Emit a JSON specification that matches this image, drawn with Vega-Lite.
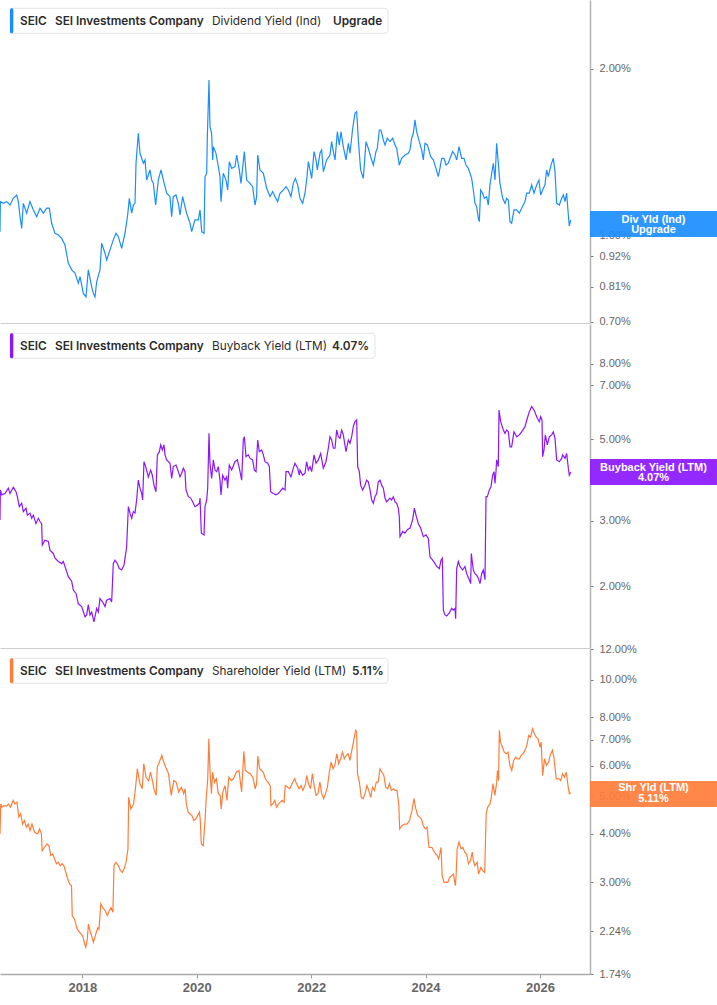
{
"$schema":"https://vega.github.io/schema/vega-lite/v6.json",
"padding":0,
"background":"white",
"spacing":1,
"bounds":"flush",
"config":{"view":{"stroke":null},"font":"Liberation Sans"},
"datasets":{
"div":[{"year":2016.560,"value":1.018},{"year":2016.566,"value":1.153},{"year":2016.618,"value":1.145},{"year":2016.677,"value":1.153},{"year":2016.735,"value":1.137},{"year":2016.793,"value":1.169},{"year":2016.851,"value":1.185},{"year":2016.881,"value":1.153},{"year":2016.910,"value":1.083},{"year":2016.939,"value":1.032},{"year":2016.968,"value":1.145},{"year":2017.026,"value":1.099},{"year":2017.084,"value":1.153},{"year":2017.143,"value":1.114},{"year":2017.201,"value":1.083},{"year":2017.259,"value":1.122},{"year":2017.318,"value":1.099},{"year":2017.376,"value":1.122},{"year":2017.422,"value":1.122},{"year":2017.463,"value":1.054},{"year":2017.522,"value":1.011},{"year":2017.580,"value":1.004},{"year":2017.638,"value":0.990},{"year":2017.696,"value":0.963},{"year":2017.755,"value":0.893},{"year":2017.813,"value":0.869},{"year":2017.871,"value":0.857},{"year":2017.929,"value":0.822},{"year":2017.959,"value":0.845},{"year":2018.017,"value":0.788},{"year":2018.063,"value":0.777},{"year":2018.104,"value":0.869},{"year":2018.163,"value":0.810},{"year":2018.192,"value":0.788},{"year":2018.221,"value":0.777},{"year":2018.250,"value":0.827},{"year":2018.308,"value":0.869},{"year":2018.337,"value":0.970},{"year":2018.396,"value":0.931},{"year":2018.425,"value":0.905},{"year":2018.483,"value":0.944},{"year":2018.541,"value":0.984},{"year":2018.588,"value":1.011},{"year":2018.629,"value":0.997},{"year":2018.687,"value":0.950},{"year":2018.745,"value":1.011},{"year":2018.792,"value":1.091},{"year":2018.821,"value":1.169},{"year":2018.862,"value":1.099},{"year":2018.891,"value":1.137},{"year":2018.920,"value":1.145},{"year":2018.938,"value":1.352},{"year":2018.978,"value":1.531},{"year":2019.008,"value":1.409},{"year":2019.066,"value":1.352},{"year":2019.095,"value":1.371},{"year":2019.124,"value":1.261},{"year":2019.182,"value":1.315},{"year":2019.212,"value":1.261},{"year":2019.241,"value":1.244},{"year":2019.281,"value":1.137},{"year":2019.328,"value":1.261},{"year":2019.375,"value":1.315},{"year":2019.416,"value":1.261},{"year":2019.445,"value":1.227},{"year":2019.474,"value":1.194},{"year":2019.532,"value":1.177},{"year":2019.561,"value":1.083},{"year":2019.590,"value":1.177},{"year":2019.637,"value":1.185},{"year":2019.678,"value":1.145},{"year":2019.707,"value":1.091},{"year":2019.753,"value":1.177},{"year":2019.794,"value":1.129},{"year":2019.823,"value":1.099},{"year":2019.882,"value":1.054},{"year":2019.911,"value":1.018},{"year":2019.969,"value":1.069},{"year":2020.027,"value":1.069},{"year":2020.057,"value":1.114},{"year":2020.086,"value":1.018},{"year":2020.127,"value":1.011},{"year":2020.144,"value":1.279},{"year":2020.173,"value":1.297},{"year":2020.185,"value":1.510},{"year":2020.214,"value":1.910},{"year":2020.231,"value":1.574},{"year":2020.260,"value":1.531},{"year":2020.278,"value":1.371},{"year":2020.290,"value":1.448},{"year":2020.336,"value":1.409},{"year":2020.377,"value":1.333},{"year":2020.406,"value":1.279},{"year":2020.424,"value":1.153},{"year":2020.464,"value":1.297},{"year":2020.511,"value":1.261},{"year":2020.540,"value":1.210},{"year":2020.569,"value":1.361},{"year":2020.610,"value":1.324},{"year":2020.668,"value":1.333},{"year":2020.698,"value":1.399},{"year":2020.744,"value":1.315},{"year":2020.773,"value":1.244},{"year":2020.832,"value":1.419},{"year":2020.872,"value":1.261},{"year":2020.931,"value":1.244},{"year":2020.977,"value":1.227},{"year":2021.018,"value":1.137},{"year":2021.047,"value":1.177},{"year":2021.065,"value":1.399},{"year":2021.105,"value":1.315},{"year":2021.164,"value":1.297},{"year":2021.222,"value":1.219},{"year":2021.280,"value":1.177},{"year":2021.327,"value":1.202},{"year":2021.368,"value":1.177},{"year":2021.414,"value":1.153},{"year":2021.455,"value":1.194},{"year":2021.513,"value":1.210},{"year":2021.560,"value":1.227},{"year":2021.601,"value":1.210},{"year":2021.647,"value":1.177},{"year":2021.688,"value":1.244},{"year":2021.723,"value":1.270},{"year":2021.764,"value":1.236},{"year":2021.805,"value":1.169},{"year":2021.851,"value":1.145},{"year":2021.892,"value":1.194},{"year":2021.921,"value":1.261},{"year":2021.951,"value":1.361},{"year":2021.980,"value":1.315},{"year":2022.009,"value":1.270},{"year":2022.050,"value":1.419},{"year":2022.085,"value":1.371},{"year":2022.108,"value":1.315},{"year":2022.154,"value":1.409},{"year":2022.184,"value":1.429},{"year":2022.213,"value":1.306},{"year":2022.271,"value":1.371},{"year":2022.329,"value":1.399},{"year":2022.358,"value":1.479},{"year":2022.388,"value":1.419},{"year":2022.417,"value":1.371},{"year":2022.458,"value":1.541},{"year":2022.492,"value":1.459},{"year":2022.522,"value":1.541},{"year":2022.562,"value":1.448},{"year":2022.609,"value":1.371},{"year":2022.650,"value":1.469},{"year":2022.679,"value":1.409},{"year":2022.726,"value":1.563},{"year":2022.766,"value":1.663},{"year":2022.796,"value":1.675},{"year":2022.825,"value":1.489},{"year":2022.865,"value":1.315},{"year":2022.912,"value":1.270},{"year":2022.959,"value":1.479},{"year":2022.999,"value":1.439},{"year":2023.040,"value":1.389},{"year":2023.087,"value":1.342},{"year":2023.133,"value":1.419},{"year":2023.157,"value":1.439},{"year":2023.192,"value":1.552},{"year":2023.221,"value":1.552},{"year":2023.262,"value":1.489},{"year":2023.291,"value":1.459},{"year":2023.332,"value":1.500},{"year":2023.378,"value":1.479},{"year":2023.425,"value":1.500},{"year":2023.466,"value":1.459},{"year":2023.495,"value":1.439},{"year":2023.541,"value":1.342},{"year":2023.582,"value":1.380},{"year":2023.640,"value":1.399},{"year":2023.699,"value":1.409},{"year":2023.728,"value":1.429},{"year":2023.757,"value":1.500},{"year":2023.786,"value":1.531},{"year":2023.815,"value":1.618},{"year":2023.844,"value":1.541},{"year":2023.891,"value":1.479},{"year":2023.932,"value":1.429},{"year":2023.961,"value":1.371},{"year":2023.990,"value":1.469},{"year":2024.031,"value":1.459},{"year":2024.066,"value":1.419},{"year":2024.089,"value":1.389},{"year":2024.136,"value":1.371},{"year":2024.182,"value":1.324},{"year":2024.223,"value":1.279},{"year":2024.252,"value":1.324},{"year":2024.282,"value":1.380},{"year":2024.322,"value":1.380},{"year":2024.357,"value":1.342},{"year":2024.398,"value":1.352},{"year":2024.427,"value":1.380},{"year":2024.474,"value":1.419},{"year":2024.515,"value":1.399},{"year":2024.544,"value":1.371},{"year":2024.585,"value":1.448},{"year":2024.631,"value":1.380},{"year":2024.672,"value":1.380},{"year":2024.707,"value":1.342},{"year":2024.748,"value":1.324},{"year":2024.777,"value":1.297},{"year":2024.806,"value":1.270},{"year":2024.835,"value":1.210},{"year":2024.864,"value":1.145},{"year":2024.893,"value":1.129},{"year":2024.923,"value":1.076},{"year":2024.940,"value":1.061},{"year":2024.963,"value":1.210},{"year":2024.998,"value":1.194},{"year":2025.027,"value":1.169},{"year":2025.068,"value":1.177},{"year":2025.097,"value":1.137},{"year":2025.126,"value":1.236},{"year":2025.156,"value":1.297},{"year":2025.185,"value":1.352},{"year":2025.214,"value":1.261},{"year":2025.243,"value":1.469},{"year":2025.272,"value":1.352},{"year":2025.301,"value":1.244},{"year":2025.348,"value":1.169},{"year":2025.389,"value":1.145},{"year":2025.418,"value":1.169},{"year":2025.447,"value":1.161},{"year":2025.476,"value":1.061},{"year":2025.505,"value":1.054},{"year":2025.546,"value":1.114},{"year":2025.593,"value":1.114},{"year":2025.639,"value":1.099},{"year":2025.680,"value":1.122},{"year":2025.738,"value":1.153},{"year":2025.768,"value":1.194},{"year":2025.814,"value":1.194},{"year":2025.855,"value":1.236},{"year":2025.896,"value":1.194},{"year":2025.942,"value":1.236},{"year":2025.983,"value":1.261},{"year":2026.012,"value":1.185},{"year":2026.059,"value":1.219},{"year":2026.088,"value":1.236},{"year":2026.117,"value":1.315},{"year":2026.146,"value":1.279},{"year":2026.193,"value":1.342},{"year":2026.234,"value":1.380},{"year":2026.263,"value":1.306},{"year":2026.292,"value":1.145},{"year":2026.339,"value":1.137},{"year":2026.379,"value":1.169},{"year":2026.409,"value":1.185},{"year":2026.438,"value":1.153},{"year":2026.467,"value":1.194},{"year":2026.496,"value":1.091},{"year":2026.513,"value":1.042},{"year":2026.537,"value":1.069}],
"buy":[{"year":2016.560,"value":3.02},{"year":2016.566,"value":3.64},{"year":2016.589,"value":3.53},{"year":2016.647,"value":3.56},{"year":2016.706,"value":3.68},{"year":2016.735,"value":3.56},{"year":2016.793,"value":3.70},{"year":2016.840,"value":3.60},{"year":2016.863,"value":3.49},{"year":2016.898,"value":3.28},{"year":2016.939,"value":3.35},{"year":2016.968,"value":3.18},{"year":2017.015,"value":3.25},{"year":2017.038,"value":3.11},{"year":2017.084,"value":3.15},{"year":2017.114,"value":3.05},{"year":2017.143,"value":3.11},{"year":2017.189,"value":2.95},{"year":2017.230,"value":3.05},{"year":2017.259,"value":2.99},{"year":2017.288,"value":2.95},{"year":2017.300,"value":2.58},{"year":2017.347,"value":2.66},{"year":2017.405,"value":2.64},{"year":2017.434,"value":2.50},{"year":2017.492,"value":2.45},{"year":2017.522,"value":2.38},{"year":2017.580,"value":2.33},{"year":2017.638,"value":2.30},{"year":2017.667,"value":2.33},{"year":2017.696,"value":2.26},{"year":2017.755,"value":2.12},{"year":2017.813,"value":2.06},{"year":2017.842,"value":1.95},{"year":2017.889,"value":1.91},{"year":2017.929,"value":1.79},{"year":2017.988,"value":1.76},{"year":2018.046,"value":1.65},{"year":2018.075,"value":1.67},{"year":2018.104,"value":1.78},{"year":2018.133,"value":1.67},{"year":2018.163,"value":1.70},{"year":2018.203,"value":1.60},{"year":2018.250,"value":1.74},{"year":2018.279,"value":1.70},{"year":2018.308,"value":1.85},{"year":2018.355,"value":1.81},{"year":2018.396,"value":1.76},{"year":2018.425,"value":1.83},{"year":2018.483,"value":1.85},{"year":2018.512,"value":1.81},{"year":2018.541,"value":2.30},{"year":2018.570,"value":2.35},{"year":2018.611,"value":2.30},{"year":2018.646,"value":2.23},{"year":2018.687,"value":2.21},{"year":2018.728,"value":2.28},{"year":2018.774,"value":2.55},{"year":2018.804,"value":3.28},{"year":2018.833,"value":3.15},{"year":2018.862,"value":3.05},{"year":2018.891,"value":3.18},{"year":2018.920,"value":3.15},{"year":2018.949,"value":3.42},{"year":2018.978,"value":3.87},{"year":2019.008,"value":3.68},{"year":2019.037,"value":3.56},{"year":2019.054,"value":3.42},{"year":2019.077,"value":4.34},{"year":2019.107,"value":4.21},{"year":2019.153,"value":3.95},{"year":2019.194,"value":4.12},{"year":2019.223,"value":3.99},{"year":2019.252,"value":3.75},{"year":2019.287,"value":3.60},{"year":2019.311,"value":4.53},{"year":2019.346,"value":4.62},{"year":2019.369,"value":4.82},{"year":2019.398,"value":4.67},{"year":2019.427,"value":4.82},{"year":2019.445,"value":4.53},{"year":2019.474,"value":4.39},{"year":2019.532,"value":4.30},{"year":2019.561,"value":3.91},{"year":2019.590,"value":4.21},{"year":2019.637,"value":4.25},{"year":2019.678,"value":4.08},{"year":2019.707,"value":3.95},{"year":2019.736,"value":4.04},{"year":2019.765,"value":4.17},{"year":2019.794,"value":4.08},{"year":2019.812,"value":3.64},{"year":2019.853,"value":3.49},{"year":2019.893,"value":3.46},{"year":2019.928,"value":3.38},{"year":2019.969,"value":3.28},{"year":2020.010,"value":3.31},{"year":2020.045,"value":3.35},{"year":2020.057,"value":3.46},{"year":2020.080,"value":2.78},{"year":2020.127,"value":2.75},{"year":2020.144,"value":3.28},{"year":2020.173,"value":3.42},{"year":2020.191,"value":3.68},{"year":2020.214,"value":5.18},{"year":2020.231,"value":4.30},{"year":2020.260,"value":3.91},{"year":2020.290,"value":4.39},{"year":2020.319,"value":4.12},{"year":2020.348,"value":4.08},{"year":2020.377,"value":4.21},{"year":2020.406,"value":3.87},{"year":2020.424,"value":3.53},{"year":2020.453,"value":3.99},{"year":2020.494,"value":3.87},{"year":2020.523,"value":3.95},{"year":2020.540,"value":3.68},{"year":2020.569,"value":4.25},{"year":2020.610,"value":4.12},{"year":2020.668,"value":4.34},{"year":2020.709,"value":4.39},{"year":2020.744,"value":4.17},{"year":2020.785,"value":3.87},{"year":2020.814,"value":4.97},{"year":2020.832,"value":5.07},{"year":2020.861,"value":4.48},{"year":2020.902,"value":4.53},{"year":2020.931,"value":4.43},{"year":2020.977,"value":4.39},{"year":2021.006,"value":4.12},{"year":2021.036,"value":4.08},{"year":2021.065,"value":4.97},{"year":2021.094,"value":4.62},{"year":2021.135,"value":4.67},{"year":2021.164,"value":4.53},{"year":2021.193,"value":4.34},{"year":2021.240,"value":4.30},{"year":2021.269,"value":4.21},{"year":2021.292,"value":3.60},{"year":2021.339,"value":3.56},{"year":2021.385,"value":3.53},{"year":2021.426,"value":3.56},{"year":2021.455,"value":3.60},{"year":2021.502,"value":3.68},{"year":2021.543,"value":3.64},{"year":2021.560,"value":4.08},{"year":2021.601,"value":4.08},{"year":2021.647,"value":3.95},{"year":2021.688,"value":4.17},{"year":2021.717,"value":4.30},{"year":2021.764,"value":4.17},{"year":2021.793,"value":3.99},{"year":2021.805,"value":4.12},{"year":2021.851,"value":3.99},{"year":2021.892,"value":4.04},{"year":2021.921,"value":4.34},{"year":2021.951,"value":4.12},{"year":2021.980,"value":4.21},{"year":2022.009,"value":4.08},{"year":2022.050,"value":4.53},{"year":2022.085,"value":4.30},{"year":2022.125,"value":4.39},{"year":2022.166,"value":4.57},{"year":2022.213,"value":4.17},{"year":2022.259,"value":4.34},{"year":2022.300,"value":4.72},{"year":2022.329,"value":5.07},{"year":2022.358,"value":4.97},{"year":2022.388,"value":4.72},{"year":2022.417,"value":4.72},{"year":2022.446,"value":5.29},{"year":2022.475,"value":5.07},{"year":2022.504,"value":5.02},{"year":2022.533,"value":5.29},{"year":2022.562,"value":5.13},{"year":2022.609,"value":4.62},{"year":2022.650,"value":4.97},{"year":2022.679,"value":4.87},{"year":2022.708,"value":5.07},{"year":2022.737,"value":5.40},{"year":2022.766,"value":5.57},{"year":2022.796,"value":5.63},{"year":2022.813,"value":4.21},{"year":2022.842,"value":4.08},{"year":2022.865,"value":3.75},{"year":2022.900,"value":3.64},{"year":2022.941,"value":3.75},{"year":2022.970,"value":3.87},{"year":2022.999,"value":3.83},{"year":2023.029,"value":3.64},{"year":2023.058,"value":3.42},{"year":2023.087,"value":3.35},{"year":2023.116,"value":3.49},{"year":2023.145,"value":3.56},{"year":2023.174,"value":3.83},{"year":2023.203,"value":3.87},{"year":2023.233,"value":3.75},{"year":2023.262,"value":3.68},{"year":2023.291,"value":3.46},{"year":2023.320,"value":3.38},{"year":2023.349,"value":3.42},{"year":2023.378,"value":3.46},{"year":2023.407,"value":3.42},{"year":2023.437,"value":3.49},{"year":2023.466,"value":3.38},{"year":2023.495,"value":3.35},{"year":2023.524,"value":3.25},{"year":2023.541,"value":3.08},{"year":2023.553,"value":2.72},{"year":2023.600,"value":2.81},{"year":2023.640,"value":2.78},{"year":2023.681,"value":2.84},{"year":2023.728,"value":2.87},{"year":2023.774,"value":3.02},{"year":2023.804,"value":3.25},{"year":2023.833,"value":3.11},{"year":2023.874,"value":2.95},{"year":2023.914,"value":2.87},{"year":2023.961,"value":2.72},{"year":2024.008,"value":2.75},{"year":2024.048,"value":2.69},{"year":2024.078,"value":2.40},{"year":2024.124,"value":2.35},{"year":2024.165,"value":2.30},{"year":2024.194,"value":2.26},{"year":2024.241,"value":2.23},{"year":2024.270,"value":2.35},{"year":2024.293,"value":2.38},{"year":2024.311,"value":1.72},{"year":2024.340,"value":1.67},{"year":2024.369,"value":1.66},{"year":2024.416,"value":1.69},{"year":2024.456,"value":1.74},{"year":2024.486,"value":1.72},{"year":2024.515,"value":1.74},{"year":2024.526,"value":1.63},{"year":2024.544,"value":2.23},{"year":2024.573,"value":2.33},{"year":2024.602,"value":2.26},{"year":2024.649,"value":2.21},{"year":2024.689,"value":2.26},{"year":2024.719,"value":2.16},{"year":2024.765,"value":2.08},{"year":2024.789,"value":2.03},{"year":2024.800,"value":2.45},{"year":2024.835,"value":2.21},{"year":2024.864,"value":2.16},{"year":2024.893,"value":2.14},{"year":2024.923,"value":2.10},{"year":2024.952,"value":2.03},{"year":2024.981,"value":2.16},{"year":2025.010,"value":2.21},{"year":2025.039,"value":2.08},{"year":2025.057,"value":3.49},{"year":2025.080,"value":3.49},{"year":2025.115,"value":3.64},{"year":2025.144,"value":3.71},{"year":2025.173,"value":3.99},{"year":2025.197,"value":4.08},{"year":2025.214,"value":3.79},{"year":2025.231,"value":4.08},{"year":2025.243,"value":4.39},{"year":2025.272,"value":4.21},{"year":2025.284,"value":5.99},{"year":2025.313,"value":5.57},{"year":2025.360,"value":5.29},{"year":2025.389,"value":5.18},{"year":2025.418,"value":5.29},{"year":2025.447,"value":5.23},{"year":2025.476,"value":4.76},{"year":2025.505,"value":4.76},{"year":2025.546,"value":5.23},{"year":2025.593,"value":5.07},{"year":2025.639,"value":5.13},{"year":2025.680,"value":5.23},{"year":2025.738,"value":5.40},{"year":2025.779,"value":5.69},{"year":2025.814,"value":5.93},{"year":2025.855,"value":6.12},{"year":2025.896,"value":5.99},{"year":2025.931,"value":5.81},{"year":2025.954,"value":5.69},{"year":2025.989,"value":5.57},{"year":2026.012,"value":5.75},{"year":2026.036,"value":5.63},{"year":2026.047,"value":4.48},{"year":2026.071,"value":4.67},{"year":2026.094,"value":5.13},{"year":2026.129,"value":4.82},{"year":2026.164,"value":5.07},{"year":2026.205,"value":5.13},{"year":2026.234,"value":5.23},{"year":2026.263,"value":5.02},{"year":2026.292,"value":4.39},{"year":2026.339,"value":4.34},{"year":2026.379,"value":4.43},{"year":2026.397,"value":4.53},{"year":2026.438,"value":4.43},{"year":2026.467,"value":4.57},{"year":2026.496,"value":4.17},{"year":2026.513,"value":3.99},{"year":2026.537,"value":4.07}],
"shr":[{"year":2016.560,"value":4.00},{"year":2016.573,"value":4.78},{"year":2016.593,"value":4.69},{"year":2016.626,"value":4.73},{"year":2016.678,"value":4.72},{"year":2016.705,"value":4.78},{"year":2016.744,"value":4.69},{"year":2016.790,"value":4.88},{"year":2016.823,"value":4.78},{"year":2016.856,"value":4.83},{"year":2016.889,"value":4.42},{"year":2016.922,"value":4.51},{"year":2016.955,"value":4.24},{"year":2016.988,"value":4.33},{"year":2017.021,"value":4.16},{"year":2017.053,"value":4.24},{"year":2017.086,"value":4.08},{"year":2017.119,"value":4.24},{"year":2017.165,"value":4.04},{"year":2017.218,"value":4.00},{"year":2017.251,"value":4.12},{"year":2017.284,"value":4.00},{"year":2017.297,"value":3.62},{"year":2017.336,"value":3.69},{"year":2017.382,"value":3.77},{"year":2017.415,"value":3.73},{"year":2017.448,"value":3.52},{"year":2017.481,"value":3.55},{"year":2017.514,"value":3.45},{"year":2017.547,"value":3.35},{"year":2017.580,"value":3.38},{"year":2017.613,"value":3.31},{"year":2017.646,"value":3.35},{"year":2017.678,"value":3.31},{"year":2017.711,"value":3.18},{"year":2017.744,"value":3.06},{"year":2017.777,"value":2.97},{"year":2017.810,"value":2.94},{"year":2017.823,"value":2.46},{"year":2017.863,"value":2.41},{"year":2017.909,"value":2.27},{"year":2017.974,"value":2.21},{"year":2018.007,"value":2.18},{"year":2018.040,"value":2.08},{"year":2018.060,"value":2.04},{"year":2018.086,"value":2.14},{"year":2018.106,"value":2.34},{"year":2018.139,"value":2.23},{"year":2018.172,"value":2.16},{"year":2018.192,"value":2.10},{"year":2018.218,"value":2.16},{"year":2018.244,"value":2.23},{"year":2018.271,"value":2.29},{"year":2018.290,"value":2.27},{"year":2018.323,"value":2.64},{"year":2018.356,"value":2.58},{"year":2018.402,"value":2.53},{"year":2018.435,"value":2.46},{"year":2018.468,"value":2.53},{"year":2018.501,"value":2.58},{"year":2018.534,"value":2.51},{"year":2018.553,"value":3.31},{"year":2018.586,"value":3.38},{"year":2018.632,"value":3.31},{"year":2018.665,"value":3.22},{"year":2018.698,"value":3.18},{"year":2018.731,"value":3.25},{"year":2018.764,"value":3.38},{"year":2018.797,"value":3.66},{"year":2018.810,"value":4.97},{"year":2018.849,"value":4.64},{"year":2018.896,"value":4.78},{"year":2018.928,"value":5.23},{"year":2018.961,"value":5.89},{"year":2018.981,"value":5.66},{"year":2019.007,"value":5.39},{"year":2019.047,"value":5.23},{"year":2019.073,"value":6.07},{"year":2019.113,"value":5.60},{"year":2019.159,"value":5.49},{"year":2019.192,"value":5.77},{"year":2019.224,"value":5.49},{"year":2019.257,"value":5.18},{"year":2019.290,"value":5.03},{"year":2019.310,"value":5.95},{"year":2019.356,"value":6.19},{"year":2019.389,"value":6.38},{"year":2019.422,"value":6.13},{"year":2019.455,"value":5.95},{"year":2019.507,"value":5.72},{"year":2019.553,"value":5.03},{"year":2019.599,"value":5.49},{"year":2019.639,"value":5.44},{"year":2019.685,"value":5.13},{"year":2019.731,"value":5.28},{"year":2019.771,"value":5.08},{"year":2019.797,"value":5.23},{"year":2019.817,"value":4.78},{"year":2019.849,"value":4.55},{"year":2019.915,"value":4.46},{"year":2019.948,"value":4.33},{"year":2019.981,"value":4.37},{"year":2020.047,"value":4.55},{"year":2020.060,"value":4.37},{"year":2020.080,"value":3.77},{"year":2020.113,"value":3.73},{"year":2020.146,"value":4.37},{"year":2020.165,"value":4.93},{"year":2020.192,"value":5.55},{"year":2020.211,"value":7.04},{"year":2020.231,"value":5.83},{"year":2020.257,"value":5.08},{"year":2020.277,"value":5.77},{"year":2020.310,"value":5.44},{"year":2020.343,"value":5.55},{"year":2020.376,"value":5.08},{"year":2020.409,"value":5.03},{"year":2020.428,"value":4.64},{"year":2020.455,"value":5.13},{"year":2020.494,"value":5.33},{"year":2020.527,"value":4.88},{"year":2020.560,"value":5.60},{"year":2020.606,"value":5.49},{"year":2020.639,"value":5.55},{"year":2020.692,"value":5.77},{"year":2020.738,"value":5.83},{"year":2020.784,"value":5.13},{"year":2020.803,"value":5.77},{"year":2020.823,"value":6.53},{"year":2020.849,"value":5.83},{"year":2020.889,"value":5.77},{"year":2020.935,"value":5.72},{"year":2020.981,"value":5.60},{"year":2021.021,"value":5.23},{"year":2021.047,"value":5.39},{"year":2021.067,"value":6.35},{"year":2021.099,"value":5.89},{"year":2021.132,"value":5.83},{"year":2021.165,"value":5.77},{"year":2021.198,"value":5.55},{"year":2021.244,"value":5.44},{"year":2021.284,"value":5.33},{"year":2021.297,"value":4.73},{"year":2021.330,"value":4.78},{"year":2021.363,"value":4.88},{"year":2021.396,"value":4.69},{"year":2021.428,"value":4.78},{"year":2021.461,"value":4.83},{"year":2021.494,"value":4.88},{"year":2021.527,"value":4.83},{"year":2021.547,"value":5.33},{"year":2021.593,"value":5.28},{"year":2021.626,"value":5.23},{"year":2021.678,"value":5.44},{"year":2021.711,"value":5.55},{"year":2021.744,"value":5.39},{"year":2021.790,"value":5.23},{"year":2021.823,"value":5.33},{"year":2021.856,"value":5.18},{"year":2021.902,"value":5.39},{"year":2021.922,"value":5.66},{"year":2021.955,"value":5.39},{"year":2021.988,"value":5.23},{"year":2022.021,"value":5.72},{"year":2022.053,"value":5.33},{"year":2022.086,"value":5.03},{"year":2022.119,"value":5.08},{"year":2022.152,"value":5.44},{"year":2022.185,"value":5.08},{"year":2022.218,"value":4.93},{"year":2022.251,"value":5.08},{"year":2022.284,"value":5.28},{"year":2022.317,"value":5.77},{"year":2022.349,"value":6.13},{"year":2022.382,"value":5.89},{"year":2022.415,"value":6.01},{"year":2022.448,"value":6.44},{"year":2022.481,"value":6.07},{"year":2022.514,"value":6.25},{"year":2022.547,"value":6.50},{"year":2022.580,"value":6.25},{"year":2022.613,"value":6.38},{"year":2022.646,"value":6.44},{"year":2022.678,"value":6.19},{"year":2022.711,"value":6.57},{"year":2022.744,"value":6.97},{"year":2022.777,"value":7.40},{"year":2022.797,"value":7.33},{"year":2022.810,"value":5.72},{"year":2022.843,"value":5.44},{"year":2022.876,"value":4.97},{"year":2022.909,"value":4.93},{"year":2022.942,"value":5.08},{"year":2022.974,"value":5.33},{"year":2023.007,"value":5.18},{"year":2023.040,"value":4.97},{"year":2023.073,"value":5.28},{"year":2023.106,"value":5.18},{"year":2023.139,"value":5.44},{"year":2023.172,"value":5.44},{"year":2023.205,"value":5.89},{"year":2023.238,"value":5.77},{"year":2023.271,"value":5.66},{"year":2023.303,"value":5.28},{"year":2023.336,"value":5.23},{"year":2023.369,"value":5.39},{"year":2023.402,"value":5.18},{"year":2023.435,"value":5.23},{"year":2023.468,"value":5.18},{"year":2023.501,"value":5.18},{"year":2023.534,"value":4.73},{"year":2023.547,"value":4.12},{"year":2023.586,"value":4.20},{"year":2023.633,"value":4.24},{"year":2023.678,"value":4.24},{"year":2023.718,"value":4.33},{"year":2023.764,"value":4.60},{"year":2023.797,"value":4.93},{"year":2023.830,"value":4.64},{"year":2023.863,"value":4.46},{"year":2023.896,"value":4.42},{"year":2023.928,"value":4.37},{"year":2023.961,"value":4.20},{"year":2023.994,"value":4.12},{"year":2024.027,"value":4.16},{"year":2024.060,"value":3.69},{"year":2024.113,"value":3.69},{"year":2024.139,"value":3.62},{"year":2024.179,"value":3.55},{"year":2024.205,"value":3.52},{"year":2024.225,"value":3.45},{"year":2024.244,"value":3.52},{"year":2024.271,"value":3.69},{"year":2024.290,"value":3.12},{"year":2024.323,"value":3.00},{"year":2024.389,"value":3.00},{"year":2024.422,"value":3.09},{"year":2024.455,"value":3.12},{"year":2024.488,"value":3.15},{"year":2024.521,"value":2.94},{"year":2024.534,"value":3.12},{"year":2024.553,"value":3.66},{"year":2024.586,"value":3.81},{"year":2024.619,"value":3.66},{"year":2024.652,"value":3.69},{"year":2024.685,"value":3.59},{"year":2024.718,"value":3.55},{"year":2024.751,"value":3.35},{"year":2024.784,"value":3.41},{"year":2024.817,"value":3.59},{"year":2024.836,"value":3.41},{"year":2024.863,"value":3.31},{"year":2024.902,"value":3.38},{"year":2024.928,"value":3.15},{"year":2024.968,"value":3.28},{"year":2024.994,"value":3.22},{"year":2025.034,"value":3.18},{"year":2025.060,"value":4.51},{"year":2025.086,"value":4.69},{"year":2025.126,"value":4.78},{"year":2025.146,"value":4.93},{"year":2025.179,"value":5.39},{"year":2025.211,"value":5.03},{"year":2025.244,"value":5.44},{"year":2025.257,"value":5.83},{"year":2025.277,"value":5.49},{"year":2025.290,"value":7.40},{"year":2025.310,"value":6.90},{"year":2025.343,"value":6.70},{"year":2025.376,"value":6.50},{"year":2025.409,"value":6.44},{"year":2025.442,"value":6.50},{"year":2025.474,"value":6.01},{"year":2025.507,"value":5.83},{"year":2025.540,"value":6.19},{"year":2025.573,"value":6.31},{"year":2025.606,"value":6.25},{"year":2025.639,"value":6.25},{"year":2025.672,"value":6.38},{"year":2025.705,"value":6.44},{"year":2025.738,"value":6.57},{"year":2025.771,"value":6.77},{"year":2025.804,"value":7.18},{"year":2025.836,"value":7.11},{"year":2025.869,"value":7.47},{"year":2025.902,"value":7.25},{"year":2025.935,"value":7.11},{"year":2025.968,"value":7.04},{"year":2026.001,"value":6.70},{"year":2026.021,"value":6.90},{"year":2026.047,"value":5.66},{"year":2026.080,"value":6.25},{"year":2026.113,"value":6.01},{"year":2026.152,"value":6.13},{"year":2026.178,"value":6.38},{"year":2026.218,"value":6.57},{"year":2026.244,"value":6.31},{"year":2026.284,"value":5.55},{"year":2026.330,"value":5.55},{"year":2026.363,"value":5.49},{"year":2026.396,"value":5.72},{"year":2026.428,"value":5.60},{"year":2026.461,"value":5.77},{"year":2026.494,"value":5.28},{"year":2026.514,"value":5.08},{"year":2026.540,"value":5.11}]
},
"vconcat":[
{"width":590,"height":323,
"layer":[
{"data":{"name":"div"},"mark":{"type":"line","color":"#1b8dff","strokeWidth":1.2,"clip":true},
"encoding":{
"x":{"field":"year","type":"quantitative","scale":{"domain":[2016.56,2026.875],"nice":false,"zero":false},"axis":{"title":null,"labels":false,"ticks":false,"grid":false,"domain":true,"domainColor":"#cccccc","domainWidth":1}},
"y":{"field":"value","type":"quantitative","scale":{"type":"log","domain":[0.697,2.661],"nice":false},"axis":{"orient":"right","title":null,"grid":false,"values":[0.7,0.81,0.92,1,2],"labelExpr":"format(datum.value,'.2f')+'%'","labelFont":"Liberation Sans","labelFontSize":11,"labelColor":"#666666","labelFlush":false,"labelOverlap":false,"labelPadding":6,"tickSize":3,"tickColor":"#777777","domainColor":"#b3b3b3","domainWidth":1.5}}}},
{"data":{"values":[{}]},"mark":{"type":"rect","fill":"white","stroke":"#e3e3e3","strokeWidth":1,"cornerRadius":3},
"encoding":{"x":{"datum":2016.735},"x2":{"datum":2023.343},"y":{"datum":2.571},"y2":{"datum":2.318}}},
{"data":{"values":[{}]},"mark":{"type":"rect","fill":"#1b8dff","cornerRadius":1.5},
"encoding":{"x":{"datum":2016.735},"x2":{"datum":2016.793},"y":{"datum":2.571},"y2":{"datum":2.318}}},
{"data":{"values":[{}]},"mark":{"type":"text","text":"SEIC","font":"Inter","fontSize":11.8,"fontWeight":600,"color":"#2b2b2b","align":"left","baseline":"middle"},
"encoding":{"x":{"datum":2016.910},"y":{"datum":2.441}}},
{"data":{"values":[{}]},"mark":{"type":"text","text":"SEI Investments Company","font":"Inter","fontSize":11.8,"fontWeight":600,"color":"#2b2b2b","align":"left","baseline":"middle"},
"encoding":{"x":{"datum":2017.522},"y":{"datum":2.441}}},
{"data":{"values":[{}]},"mark":{"type":"text","text":"Dividend Yield (Ind)","font":"Inter","fontSize":11.8,"fontWeight":400,"color":"#2b2b2b","align":"left","baseline":"middle"},
"encoding":{"x":{"datum":2020.266},"y":{"datum":2.441}}},
{"data":{"values":[{}]},"mark":{"type":"text","text":"Upgrade","font":"Inter","fontSize":11.8,"fontWeight":600,"color":"#2b2b2b","align":"left","baseline":"middle"},
"encoding":{"x":{"datum":2022.382},"y":{"datum":2.441}}},
{"data":{"values":[{}]},"mark":{"type":"rect","fill":"#1b8dff","opacity":0.92},
"encoding":{"x":{"datum":2026.875},"x2":{"datum":2029.095},"y":{"datum":1.109},"y2":{"datum":0.996}}},
{"data":{"values":[{}]},"mark":{"type":"text","text":"Div Yld (Ind)","font":"Liberation Sans","fontSize":11,"fontWeight":"bold","color":"white","align":"center","baseline":"middle"},
"encoding":{"x":{"datum":2027.985},"y":{"datum":1.069}}},
{"data":{"values":[{}]},"mark":{"type":"text","text":"Upgrade","font":"Liberation Sans","fontSize":11,"fontWeight":"bold","color":"white","align":"center","baseline":"middle"},
"encoding":{"x":{"datum":2027.985},"y":{"datum":1.025}}}
]},
{"width":590,"height":324,
"layer":[
{"data":{"name":"buy"},"mark":{"type":"line","color":"#8a17ff","strokeWidth":1.2,"clip":true},
"encoding":{
"x":{"field":"year","type":"quantitative","scale":{"domain":[2016.56,2026.875],"nice":false,"zero":false},"axis":{"title":null,"labels":false,"ticks":false,"grid":false,"domain":true,"domainColor":"#cccccc","domainWidth":1}},
"y":{"field":"value","type":"quantitative","scale":{"type":"log","domain":[1.359,10.24],"nice":false},"axis":{"orient":"right","title":null,"grid":false,"values":[2,3,5,7,8],"labelExpr":"format(datum.value,'.2f')+'%'","labelFont":"Liberation Sans","labelFontSize":11,"labelColor":"#666666","labelFlush":false,"labelOverlap":false,"labelPadding":6,"tickSize":3,"tickColor":"#777777","domainColor":"#b3b3b3","domainWidth":1.5}}}},
{"data":{"values":[{}]},"mark":{"type":"rect","fill":"white","stroke":"#e3e3e3","strokeWidth":1,"cornerRadius":3},
"encoding":{"x":{"datum":2016.735},"x2":{"datum":2023.116},"y":{"datum":9.663},"y2":{"datum":8.269}}},
{"data":{"values":[{}]},"mark":{"type":"rect","fill":"#8a17ff","cornerRadius":1.5},
"encoding":{"x":{"datum":2016.735},"x2":{"datum":2016.793},"y":{"datum":9.663},"y2":{"datum":8.269}}},
{"data":{"values":[{}]},"mark":{"type":"text","text":"SEIC","font":"Inter","fontSize":11.8,"fontWeight":600,"color":"#2b2b2b","align":"left","baseline":"middle"},
"encoding":{"x":{"datum":2016.910},"y":{"datum":8.939}}},
{"data":{"values":[{}]},"mark":{"type":"text","text":"SEI Investments Company","font":"Inter","fontSize":11.8,"fontWeight":600,"color":"#2b2b2b","align":"left","baseline":"middle"},
"encoding":{"x":{"datum":2017.522},"y":{"datum":8.939}}},
{"data":{"values":[{}]},"mark":{"type":"text","text":"Buyback Yield (LTM)","font":"Inter","fontSize":11.8,"fontWeight":400,"color":"#2b2b2b","align":"left","baseline":"middle"},
"encoding":{"x":{"datum":2020.266},"y":{"datum":8.939}}},
{"data":{"values":[{}]},"mark":{"type":"text","text":"4.07%","font":"Inter","fontSize":11.8,"fontWeight":600,"color":"#2b2b2b","align":"left","baseline":"middle"},
"encoding":{"x":{"datum":2022.364},"y":{"datum":8.939}}},
{"data":{"values":[{}]},"mark":{"type":"rect","fill":"#8a17ff","opacity":0.92},
"encoding":{"x":{"datum":2026.875},"x2":{"datum":2029.095},"y":{"datum":4.415},"y2":{"datum":3.753}}},
{"data":{"values":[{}]},"mark":{"type":"text","text":"Buyback Yield (LTM)","font":"Liberation Sans","fontSize":11,"fontWeight":"bold","color":"white","align":"center","baseline":"middle"},
"encoding":{"x":{"datum":2027.985},"y":{"datum":4.174}}},
{"data":{"values":[{}]},"mark":{"type":"text","text":"4.07%","font":"Liberation Sans","fontSize":11,"fontWeight":"bold","color":"white","align":"center","baseline":"middle"},
"encoding":{"x":{"datum":2027.985},"y":{"datum":3.922}}}
]},
{"width":590,"height":325,
"layer":[
{"data":{"name":"shr"},"mark":{"type":"line","color":"#ff7d3a","strokeWidth":1.2,"clip":true},
"encoding":{
"x":{"field":"year","type":"quantitative","scale":{"domain":[2016.56,2026.875],"nice":false,"zero":false},"axis":{"title":null,"grid":false,"values":[2018,2020,2022,2024,2026],"format":"d","labelFont":"Liberation Sans","labelFontSize":13,"labelFontWeight":"bold","labelColor":"#666666","labelFlush":false,"labelPadding":3,"tickSize":4,"tickColor":"#999999","domainColor":"#aaaaaa","domainWidth":1.5}},
"y":{"field":"value","type":"quantitative","scale":{"type":"log","domain":[1.74,12],"nice":false},"axis":{"orient":"right","title":null,"grid":false,"values":[1.74,2.24,3,4,5,6,7,8,10,12],"labelExpr":"format(datum.value,'.2f')+'%'","labelFont":"Liberation Sans","labelFontSize":11,"labelColor":"#666666","labelFlush":false,"labelOverlap":false,"labelPadding":6,"tickSize":3,"tickColor":"#777777","domainColor":"#b3b3b3","domainWidth":1.5}}}},
{"data":{"values":[{}]},"mark":{"type":"rect","fill":"white","stroke":"#e3e3e3","strokeWidth":1,"cornerRadius":3},
"encoding":{"x":{"datum":2016.735},"x2":{"datum":2023.343},"y":{"datum":11.354},"y2":{"datum":9.787}}},
{"data":{"values":[{}]},"mark":{"type":"rect","fill":"#ff7d3a","cornerRadius":1.5},
"encoding":{"x":{"datum":2016.735},"x2":{"datum":2016.793},"y":{"datum":11.354},"y2":{"datum":9.787}}},
{"data":{"values":[{}]},"mark":{"type":"text","text":"SEIC","font":"Inter","fontSize":11.8,"fontWeight":600,"color":"#2b2b2b","align":"left","baseline":"middle"},
"encoding":{"x":{"datum":2016.910},"y":{"datum":10.542}}},
{"data":{"values":[{}]},"mark":{"type":"text","text":"SEI Investments Company","font":"Inter","fontSize":11.8,"fontWeight":600,"color":"#2b2b2b","align":"left","baseline":"middle"},
"encoding":{"x":{"datum":2017.522},"y":{"datum":10.542}}},
{"data":{"values":[{}]},"mark":{"type":"text","text":"Shareholder Yield (LTM)","font":"Inter","fontSize":11.8,"fontWeight":400,"color":"#2b2b2b","align":"left","baseline":"middle"},
"encoding":{"x":{"datum":2020.266},"y":{"datum":10.542}}},
{"data":{"values":[{}]},"mark":{"type":"text","text":"5.11%","font":"Inter","fontSize":11.8,"fontWeight":600,"color":"#2b2b2b","align":"left","baseline":"middle"},
"encoding":{"x":{"datum":2022.714},"y":{"datum":10.542}}},
{"data":{"values":[{}]},"mark":{"type":"rect","fill":"#ff7d3a","opacity":0.92},
"encoding":{"x":{"datum":2026.875},"x2":{"datum":2029.095},"y":{"datum":5.477},"y2":{"datum":4.693}}},
{"data":{"values":[{}]},"mark":{"type":"text","text":"Shr Yld (LTM)","font":"Liberation Sans","fontSize":11,"fontWeight":"bold","color":"white","align":"center","baseline":"middle"},
"encoding":{"x":{"datum":2027.985},"y":{"datum":5.244}}},
{"data":{"values":[{}]},"mark":{"type":"text","text":"5.11%","font":"Liberation Sans","fontSize":11,"fontWeight":"bold","color":"white","align":"center","baseline":"middle"},
"encoding":{"x":{"datum":2027.985},"y":{"datum":4.913}}}
]}
]
}
